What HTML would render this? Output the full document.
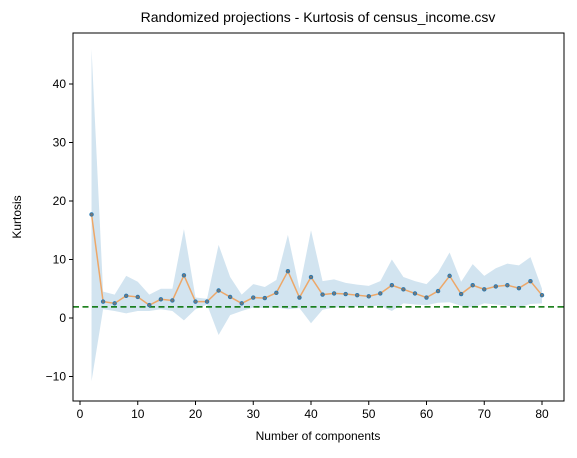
<!DOCTYPE html>
<html><head><meta charset="utf-8"><style>body{margin:0;background:#fff}svg{font-family:"Liberation Sans","DejaVu Sans",sans-serif}</style></head>
<body>
<svg id="c" width="577" height="453" viewBox="0 0 577 453"></svg>
<script>
const xs=[2,4,6,8,10,12,14,16,18,20,22,24,26,28,30,32,34,36,38,40,42,44,46,48,50,52,54,56,58,60,62,64,66,68,70,72,74,76,78,80];
const meanVals=[17.7,2.8,2.5,3.8,3.6,2.2,3.2,3.0,7.3,2.8,2.8,4.7,3.6,2.5,3.5,3.4,4.3,8.0,3.5,7.0,4.0,4.2,4.1,3.9,3.7,4.2,5.6,4.9,4.2,3.5,4.6,7.2,4.1,5.6,4.9,5.4,5.6,5.1,6.3,3.9];
const upperVals=[46,4.5,4,7.2,6.2,4,5,5,15.2,3.5,3.3,12.5,7,4,5.8,5.3,6.5,14.2,5,15,6.3,6.6,6,5.7,5.5,6.3,10,7,6.3,5.8,7.8,11.2,6.2,9.2,7.2,8.5,9.3,9,10.4,5];
const lowerVals=[-10.8,1.5,1.2,0.8,1.2,1.2,1.5,1.2,-0.4,1.5,2.3,-2.9,0.5,1.2,1.8,1.7,1.8,1.5,1.7,-0.9,1.4,1.8,1.8,2.0,2.0,2.1,1.2,2.5,2.3,2.2,2.6,2.7,2.1,1.8,2.5,2.3,2.1,1.8,2.4,2.5];
const refLine=1.9;
const xTicks=[0,10,20,30,40,50,60,70,80];
const yTicks=[-10,0,10,20,30,40];
const L=73,R=564,T=33,B=401;
const X=v=>80+(v-0)*(542-80)/80;
const Y=v=>318-v*5.85;
const s=document.getElementById('c');const NS='http://www.w3.org/2000/svg';
function mk(t,a,p){const e=document.createElementNS(NS,t);for(const k in a)e.setAttribute(k,a[k]);(p||s).appendChild(e);return e;}
let d='M'+xs.map((x,i)=>X(x)+','+Y(upperVals[i])).join('L')+'L'+xs.map((x,i)=>X(x)+','+Y(lowerVals[i])).reverse().join('L')+'Z';
const band=mk('path',{d:d,fill:'#1f77b4','fill-opacity':0.2,stroke:'none'});


const ref=mk('line',{x1:L,x2:R,y1:Y(refLine),y2:Y(refLine),stroke:'#007000','stroke-width':1.6,'stroke-dasharray':'6,3.5'});


const ln=mk('polyline',{points:xs.map((x,i)=>X(x)+','+Y(meanVals[i])).join(' '),fill:'none',stroke:'#ff7f0e','stroke-opacity':0.6,'stroke-width':1.5});


xs.forEach((x,i)=>{const c=mk('circle',{cx:X(x),cy:Y(meanVals[i]),r:2.2,fill:'#1f77b4'});


mk('circle',{cx:X(x),cy:Y(meanVals[i]),r:1.4,fill:'#777'});});
const fr=mk('rect',{x:L,y:T,width:R-L,height:B-T,fill:'none',stroke:'#000','stroke-width':1});


xTicks.forEach(v=>{mk('line',{x1:X(v),x2:X(v),y1:B,y2:B+4,stroke:'#000'});const t=mk('text',{x:X(v),y:B+17,'text-anchor':'middle','font-size':12});t.textContent=v;

});
yTicks.forEach(v=>{mk('line',{x1:L-4,x2:L,y1:Y(v),y2:Y(v),stroke:'#000'});const t=mk('text',{x:L-7,y:Y(v)+4,'text-anchor':'end','font-size':12});t.textContent=String(v).replace('-','\u2212');

});
</script>
<svg style="position:absolute;left:0;top:0" width="577" height="453">
<text x="318" y="22" text-anchor="middle" font-size="14" font-family="Liberation Sans, sans-serif">Randomized projections - Kurtosis of census_income.csv</text>
<text x="318" y="440" text-anchor="middle" font-size="12" font-family="Liberation Sans, sans-serif">Number of components</text>
<text x="0" y="0" transform="translate(21,217) rotate(-90)" text-anchor="middle" font-size="12" font-family="Liberation Sans, sans-serif">Kurtosis</text>
</svg>
</body></html>
